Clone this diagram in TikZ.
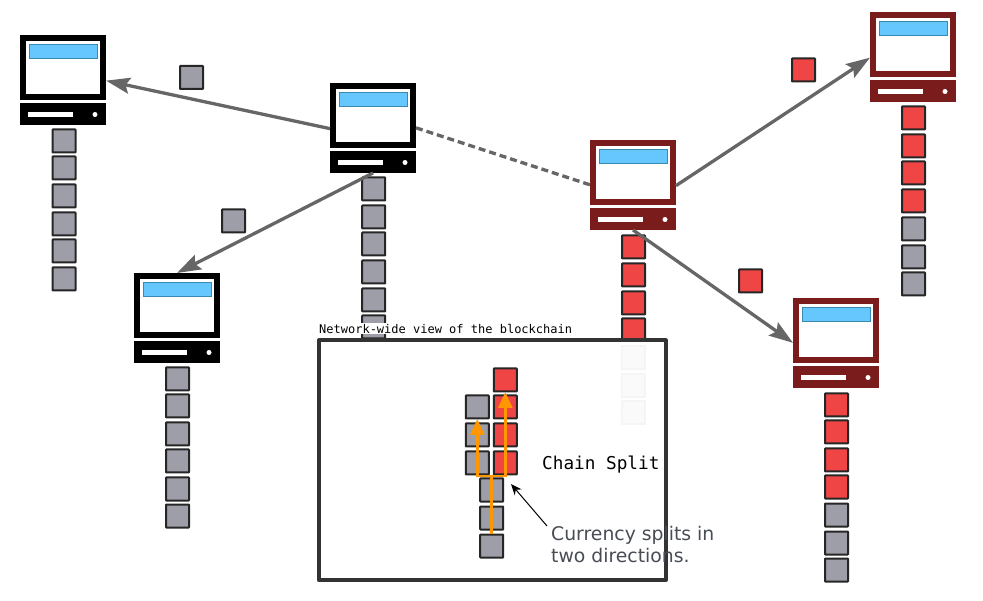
\documentclass[tikz,border=0pt]{standalone}
\usepackage{fontspec}
\setmainfont{DejaVu Sans}
\setmonofont{DejaVu Sans Mono}
\usetikzlibrary{arrows.meta}
\definecolor{blockgray}{HTML}{9E9EA8}
\definecolor{blockred}{HTML}{F04545}
\definecolor{darkred}{HTML}{7B1C1C}
\definecolor{screenblue}{HTML}{66C7FF}
\definecolor{screenline}{HTML}{3A89B0}
\definecolor{linkgray}{HTML}{666666}
\definecolor{splitorange}{HTML}{FF9800}
\definecolor{notegray}{HTML}{474C55}
\tikzset{
  block/.style={draw=black!85,line width=2pt,rounded corners=0.5pt,minimum size=23pt,inner sep=0pt},
  grayblock/.style={block,fill=blockgray},
  redblock/.style={block,fill=blockred},
  fadedblock/.style={draw=black!4,fill=black!2,line width=2pt,minimum size=23pt,inner sep=0pt},
  part/.style={anchor=north west,inner sep=0pt,outer sep=0pt},
  link/.style={draw=linkgray,line width=3.3pt},
  linkarrow/.style={link,-{Stealth[length=24pt,width=16pt,inset=4pt]}},
  splitline/.style={draw=splitorange,line width=2.6pt},
  splitarrow/.style={splitline,-{Triangle[length=16pt,width=14pt]}}
}
% un computer: monitor, schermo, barra, base, fessura, led
\newcommand{\computer}[4]{
  \begin{scope}[shift={(#2,#3)}]
    \node[part,fill=#4,minimum width=86pt,minimum height=65pt](#1mon) at (0,0) {};
    \node[part,fill=white,minimum width=74pt,minimum height=53pt](#1scr) at (6,6) {};
    \node[part,fill=screenblue,draw=screenline,line width=0.8pt,minimum width=68pt,minimum height=14pt](#1bar) at (9.5,9.5) {};
    \node[part,fill=#4,minimum width=86pt,minimum height=22pt](#1base) at (0,68) {};
    \node[part,fill=white,minimum width=45pt,minimum height=5pt](#1slot) at (8,77) {};
    \node[circle,fill=white,inner sep=0pt,minimum size=5pt](#1led) at (75,79.5) {};
  \end{scope}
}
\begin{document}
\begin{tikzpicture}[x=1pt,y=-1pt]
  \useasboundingbox (0,0) rectangle (983,601);

  % Catene di blocchi sotto ogni computer
  \foreach \y [count=\k] in {141,168,196,224,251,279}
    \node[grayblock](a\k) at (64,\y) {};
  \foreach \y [count=\k] in {189,217,244,272,300,327}
    \node[grayblock](b\k) at (373.7,\y) {};
  \foreach \y [count=\k] in {379,406,434,461,489,516}
    \node[grayblock](c\k) at (177.5,\y) {};
  \foreach \y [count=\k] in {247,275,303,330}
    \node[redblock](d\k) at (633.5,\y) {};
  \foreach \y [count=\k] in {118,146,173,201}
    \node[redblock](e\k) at (913.5,\y) {};
  \foreach \y [count=\k] in {229,257,284}
    \node[grayblock](eg\k) at (913.5,\y) {};
  \foreach \y [count=\k] in {405,432,460,487}
    \node[redblock](f\k) at (836.5,\y) {};
  \foreach \y [count=\k] in {515,543,570}
    \node[grayblock](fg\k) at (836.5,\y) {};

  % Computer
  \computer{a}{20}{35}{black}
  \computer{b}{330}{83}{black}
  \computer{c}{134}{273}{black}
  \computer{d}{590}{140}{darkred}
  \computer{e}{870}{12}{darkred}
  \computer{f}{793}{298}{darkred}

  % Blocchi in transito
  \node[grayblock](ta) at (191.5,77.5) {};
  \node[grayblock](tc) at (233.5,221) {};
  \node[redblock](te) at (803.5,70) {};
  \node[redblock](tf) at (750.5,281) {};

  % Collegamenti tra i computer
  \draw[linkarrow] (bmon.197)--(amon.-17);
  \draw[linkarrow] (bbase.south)--(cmon.north);
  \draw[link,dash pattern=on 7pt off 4pt] (bmon.-16)--(dmon.196);
  \draw[linkarrow] (dmon.-17)--(emon.197);
  \draw[linkarrow] (dbase.south)--(fmon.196);

  % Riquadro con la vista della rete
  \node[anchor=south west,fill=white,inner sep=1pt,font=\ttfamily\fontsize{12}{12}\selectfont](viewlabel) at (318,334.5) {Network-wide view of the blockchain};
  \node[draw=black!80,fill=white,line width=4pt,line join=round,part,minimum width=346.7pt,minimum height=240pt](viewbox) at (319,340.3) {};

  % Blocchi scoloriti sopra il riquadro
  \foreach \y [count=\k] in {358,386,413}
    \node[fadedblock](df\k) at (633.5,\y) {};

  % Biforcazione della catena
  \foreach \y [count=\k] in {490,518,546}
    \node[grayblock](s\k) at (491.7,\y) {};
  \foreach \y [count=\k] in {463,435,407}
    \node[grayblock](l\k) at (477.3,\y) {};
  \foreach \y [count=\k] in {463,435,407,380}
    \node[redblock](r\k) at (505.3,\y) {};

  \coordinate (fork) at (491.7,476);
  \coordinate (forkl) at (477.3,476);
  \coordinate (forkr) at (505.3,476);
  \coordinate (tipl) at (477.3,419);
  \coordinate (tipr) at (505.3,392);
  \draw[splitline] (s3.north)--(fork);
  \draw[splitarrow] (fork)--(forkl)--(tipl);
  \draw[splitarrow] (fork)--(forkr)--(tipr);

  % Testi
  \node[anchor=west,inner sep=0pt,font=\ttfamily\fontsize{17.7}{17.7}\selectfont](splitlabel) at (542,464.5) {Chain Split};
  \node[anchor=north west,align=left,inner sep=0pt,text=notegray,font=\fontsize{18.8}{22}\selectfont](note) at (551,526) {Currency splits in\\two directions.};
  \coordinate (notetail) at (547,526);
  \coordinate (pointer) at (511,484);
  \draw[black,line width=1pt,-{Stealth[length=11pt,width=9pt]}] (notetail)--(pointer);
\end{tikzpicture}
\end{document}
